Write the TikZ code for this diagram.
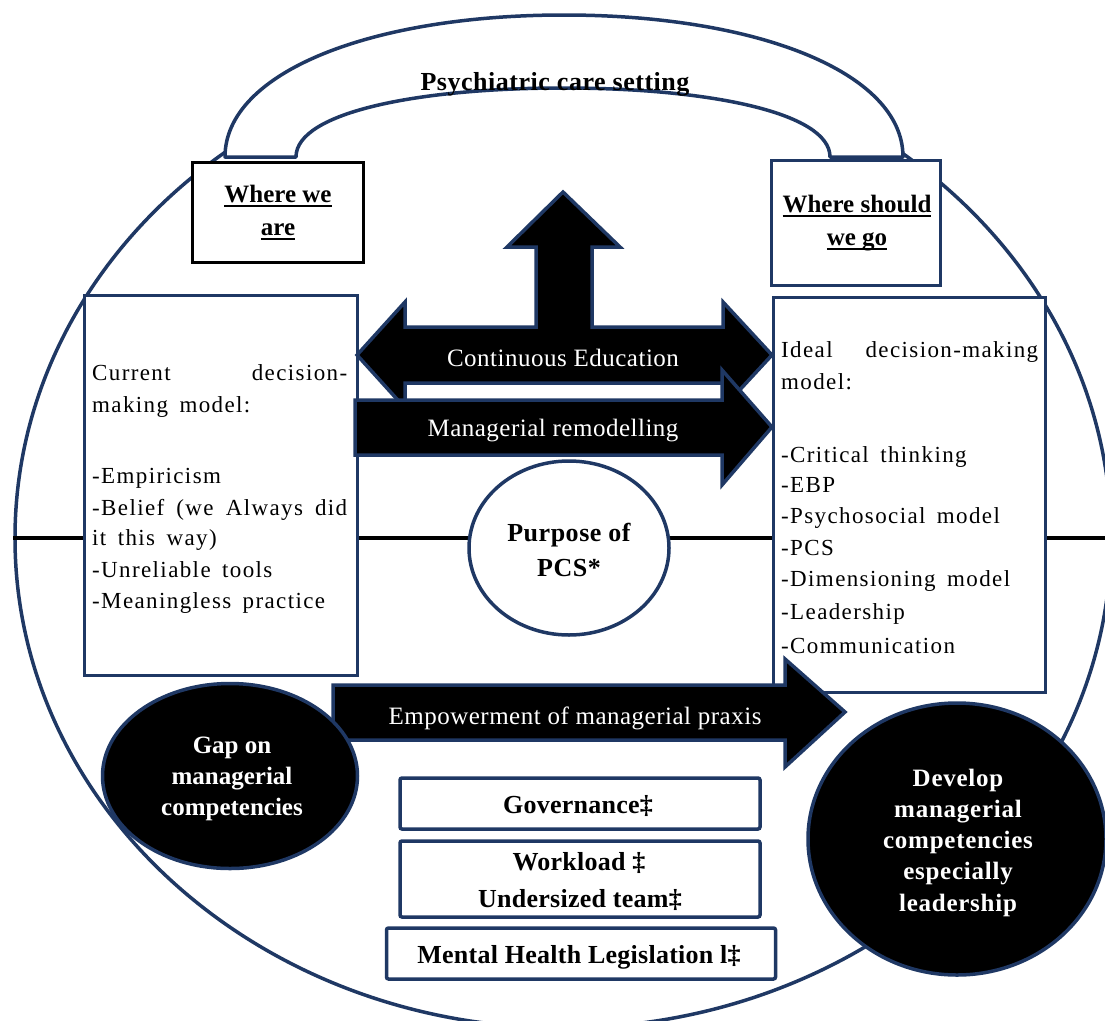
\documentclass[tikz,border=0pt]{standalone}
\usepackage{fontspec}
\setmainfont{Liberation Serif}
\newfontfamily\bodyfont[LetterSpace=6,WordSpace=1.6]{Liberation Serif}
\newfontfamily\arrfont[LetterSpace=2,WordSpace=2]{Liberation Serif}
\newfontfamily\lsfont[LetterSpace=2]{Liberation Serif}
\newfontfamily\devfont[LetterSpace=3]{Liberation Serif}
\newfontfamily\boxfont[LetterSpace=1]{Liberation Serif}
\usetikzlibrary{shapes.geometric}
\definecolor{navy}{HTML}{1F3864}
\newcommand\myul[1]{\setbox0\hbox{#1}\rlap{\rule[-5pt]{\wd0}{2.5pt}}\box0}
\tikzset{
  boxshape/.style={draw=navy, line width=3pt, fill=white, inner sep=0pt},
  bottombox/.style={boxshape, line width=3.5pt, rounded corners=2pt},
  ellshape/.style={ellipse, draw=navy, line width=3.5pt, inner sep=0pt},
  arrshape/.style={draw=navy, line width=3.5pt, fill=black, line join=miter},
  bodytxt/.style={inner sep=0pt, anchor=base west, font=\bodyfont\fontsize{23}{28}\selectfont},
  arrtxt/.style={inner sep=0pt, anchor=base, text=white, font=\arrfont\fontsize{25}{30}\selectfont},
  boldtxt/.style={inner sep=0pt, anchor=base, font=\bfseries\fontsize{25}{30}\selectfont},
  boxtxt/.style={inner sep=0pt, anchor=base, font=\boxfont\bfseries\fontsize{26}{30}\selectfont},
  gaptxt/.style={inner sep=0pt, anchor=base, text=white, font=\bfseries\fontsize{25}{30}\selectfont},
  devtxt/.style={inner sep=0pt, anchor=base, text=white, font=\devfont\bfseries\fontsize{25}{30}\selectfont},
  purptxt/.style={inner sep=0pt, anchor=base, font=\lsfont\bfseries\fontsize{26}{30}\selectfont},
}
\begin{document}
\begin{tikzpicture}[x=1pt,y=-1pt]
\useasboundingbox (0,0) rectangle (1105,1020);
\clip (0,0) rectangle (1105,1020);
% big setting ellipse
\node[ellshape, minimum width=1096pt, minimum height=980pt] (setting) at (563,538) {};
\draw[black, line width=3.5pt] (setting.west) -- (setting.east);
% arch
\filldraw[fill=white, draw=navy, line width=3.5pt, line join=round]
  (225,157) .. controls (225,72) and (372,15) .. (564,15)
  .. controls (756,15) and (903,72) .. (903,157) -- (830,157)
  .. controls (830,112) and (706,88) .. (563,88)
  .. controls (420,88) and (296,112) .. (296,157) -- cycle;
\node[inner sep=0pt, anchor=base, font=\lsfont\bfseries\fontsize{26}{30}\selectfont] (title) at (555,90) {Psychiatric care setting};
% top boxes
\node[boxshape, draw=black, minimum width=171pt, minimum height=100pt] (wherewe) at (277.5,212) {};
\node[boxshape, minimum width=169pt, minimum height=125pt] (wherego) at (855.5,222.5) {};
% main boxes
\node[boxshape, minimum width=273pt, minimum height=380pt] (curbox) at (220.5,485) {};
\node[boxshape, minimum width=272pt, minimum height=395pt] (idealbox) at (909,494.5) {};
% purpose
\node[ellshape, fill=white, minimum width=200pt, minimum height=174pt] (purpose) at (569,548) {};
% continuous education cross arrow
\filldraw[arrshape] (563,192) -- (620,247) -- (592,247) -- (592,327) -- (723,327) -- (723,302)
  -- (772,355) -- (723,408) -- (723,383) -- (405,383) -- (405,408) -- (357,355)
  -- (405,302) -- (405,327) -- (536,327) -- (536,247) -- (507,247) -- cycle;
% managerial remodelling arrow
\filldraw[arrshape] (355,400) -- (722,400) -- (722,370) -- (772,427) -- (722,485) -- (722,455) -- (355,455) -- cycle;
% empowerment arrow
\filldraw[arrshape] (333,685) -- (785,685) -- (785,659) -- (845,712) -- (785,767) -- (785,740) -- (333,740) -- cycle;
% ellipses
\node[ellshape, fill=black, minimum width=255pt, minimum height=185pt] (gap) at (230,776) {};
\node[ellshape, fill=black, minimum width=298pt, minimum height=272pt] (develop) at (957,839) {};
% bottom boxes
\node[bottombox, minimum width=360pt, minimum height=51pt] (gov) at (580,803.5) {};
\node[bottombox, minimum width=360pt, minimum height=76pt] (work) at (580,879) {};
\node[bottombox, minimum width=389pt, minimum height=51pt] (law) at (581,953.5) {};
% texts
\node[boldtxt] (wwa1) at (278,202) {\myul{Where we}};
\node[boldtxt] (wwa2) at (278,235) {\myul{are}};
\node[boldtxt] (wsg1) at (857,212) {\myul{Where should}};
\node[boldtxt] (wsg2) at (857,245) {\myul{we go}};
\node[bodytxt] (c1) at (92,380) {\makebox[255pt][s]{Current decision-}};
\node[bodytxt] (c2) at (92,412) {making model:};
\node[bodytxt] (c3) at (92,483) {-Empiricism};
\node[bodytxt] (c4) at (92,515) {\makebox[255pt][s]{-Belief (we Always did}};
\node[bodytxt] (c5) at (92,545) {it this way)};
\node[bodytxt] (c6) at (92,577) {-Unreliable tools};
\node[bodytxt] (c7) at (92,608) {-Meaningless practice};
\node[bodytxt] (i1) at (781,357) {\makebox[257pt][s]{Ideal decision-making}};
\node[bodytxt] (i2) at (781,389) {model:};
\node[bodytxt] (i3) at (781,462) {-Critical thinking};
\node[bodytxt] (i4) at (781,492) {-EBP};
\node[bodytxt] (i5) at (781,523) {-Psychosocial model};
\node[bodytxt] (i6) at (781,555) {-PCS};
\node[bodytxt] (i7) at (781,586) {-Dimensioning model};
\node[bodytxt] (i8) at (781,619) {-Leadership};
\node[bodytxt] (i9) at (781,653) {-Communication};
\node[arrtxt] (ce) at (563,366) {Continuous Education};
\node[arrtxt] (mr) at (553,436) {Managerial remodelling};
\node[arrtxt] (emp) at (575,724) {Empowerment of managerial praxis};
\node[purptxt] (p1) at (569,541) {Purpose of};
\node[purptxt] (p2) at (569,576) {PCS*};
\node[gaptxt] (g1) at (232,753) {Gap on};
\node[gaptxt] (g2) at (232,784) {managerial};
\node[gaptxt] (g3) at (232,815) {competencies};
\node[devtxt] (d1) at (958,786) {Develop};
\node[devtxt] (d2) at (958,817) {managerial};
\node[devtxt] (d3) at (958,848) {competencies};
\node[devtxt] (d4) at (958,879) {especially};
\node[devtxt] (d5) at (958,911) {leadership};
\node[boxtxt] (gv) at (578,813) {Governance‡};
\node[boxtxt] (wl1) at (579,870) {Workload ‡};
\node[boxtxt] (wl2) at (580,907) {Undersized team‡};
\node[boxtxt] (mh) at (579,963) {Mental Health Legislation l‡};
\end{tikzpicture}
\end{document}
